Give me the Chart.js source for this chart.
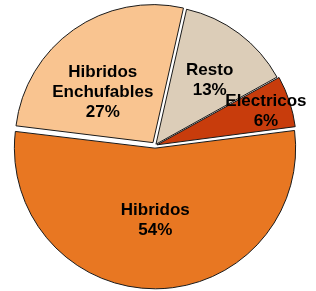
<!DOCTYPE html>
<html>
<head>
<meta charset="utf-8">
<script src="https://cdn.jsdelivr.net/npm/chart.js@4/dist/chart.umd.min.js"></script>
<style>
html,body{margin:0;padding:0;background:#fff;}
#wrap{width:316px;height:291px;}
</style>
</head>
<body>
<div id="wrap"><canvas id="c" width="316" height="291"></canvas></div>
<script>
const categories = ['Hibridos', 'Hibridos Enchufables', 'Resto', 'Electricos'];
const values = [54, 26.6, 13.4, 6];
const colors = ['#E87722', '#F9C490', '#DCCDB8', '#C83C0C'];
// Chart.js offset option (it is scaled internally by the arc)
const offsets = [10.6, 14, 6.4, 8.6];
// label placement: [radial fraction, angular fraction within slice]
const labelPlace = [[0.507, 0.5], [0.517, 0.40], [0.60, 0.57], [0.815, 0.56]];

function effOffset(off, circ) {
  const o = off / 4;
  const fix = 1 - Math.sin(Math.min(Math.PI, circ));
  return o + o * fix;
}

const labelPlugin = {
  id: 'sliceLabels',
  afterDatasetsDraw(chart) {
    const ctx = chart.ctx;
    const meta = chart.getDatasetMeta(0);
    const total = values.reduce((a, b) => a + b, 0);
    ctx.save();
    ctx.font = 'bold 17px "Liberation Sans", Arial, sans-serif';
    ctx.fillStyle = '#000';
    ctx.textAlign = 'center';
    ctx.textBaseline = 'middle';
    meta.data.forEach((arc, i) => {
      const p = arc.getProps(['x', 'y', 'startAngle', 'endAngle', 'outerRadius'], true);
      const mid = (p.startAngle + p.endAngle) / 2;
      const off = effOffset(offsets[i], p.endAngle - p.startAngle);
      const cx = p.x + off * Math.cos(mid);
      const cy = p.y + off * Math.sin(mid);
      const [rf, af] = labelPlace[i];
      const a = p.startAngle + (p.endAngle - p.startAngle) * af;
      const lx = cx + rf * p.outerRadius * Math.cos(a);
      const ly = cy + rf * p.outerRadius * Math.sin(a);
      const lines = categories[i].split(' ');
      lines.push(Math.round(values[i] / total * 100) + '%');
      const lh = 20;
      const y0 = ly - (lines.length - 1) * lh / 2;
      lines.forEach((t, k) => ctx.fillText(t, lx, y0 + k * lh));
    });
    ctx.restore();
  }
};

new Chart(document.getElementById('c'), {
  type: 'pie',
  data: {
    labels: categories,
    datasets: [{
      data: values,
      backgroundColor: colors,
      borderColor: '#1a1a1a',
      borderWidth: 1,
      offset: offsets,
      hoverOffset: 0
    }]
  },
  options: {
    responsive: false,
    animation: false,
    devicePixelRatio: 1,
    rotation: 82.6,
    radius: 138,
    layout: { padding: { left: 0, right: 6, top: 0, bottom: 0 } },
    plugins: {
      legend: { display: false },
      tooltip: { enabled: false }
    }
  },
  plugins: [labelPlugin]
});
</script>
</body>
</html>
